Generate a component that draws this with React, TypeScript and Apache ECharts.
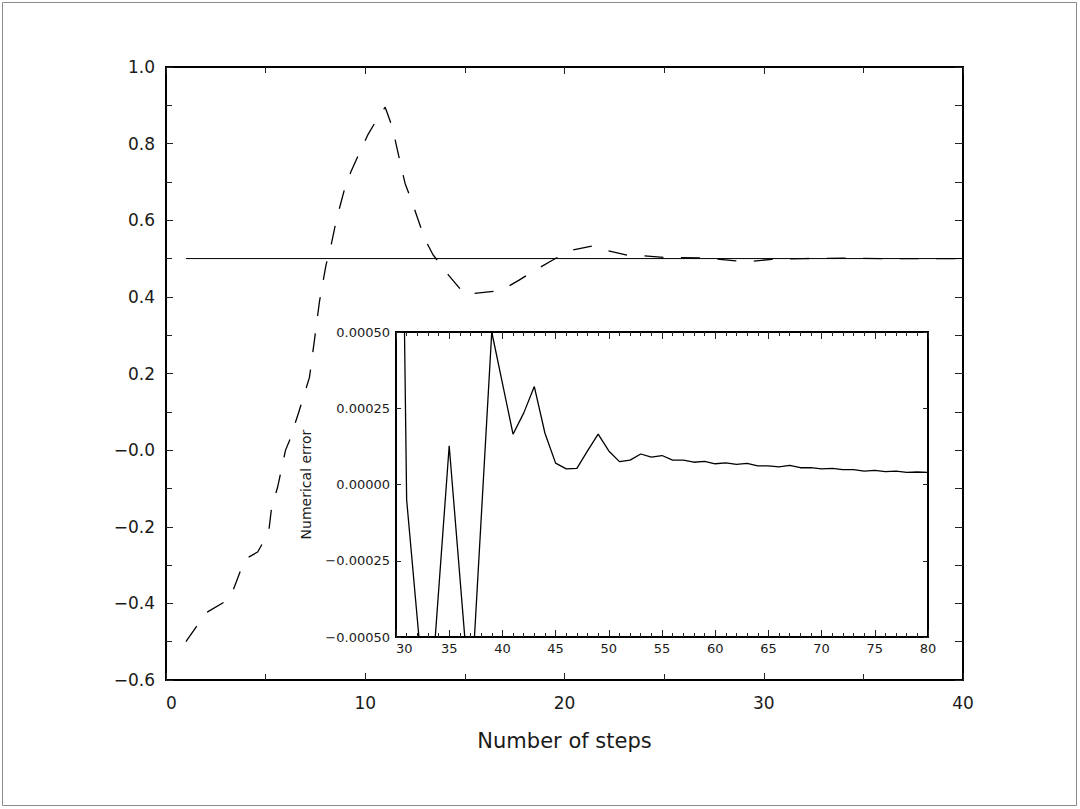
import React, { useEffect, useRef } from "react";
import * as echarts from "echarts";

// Main curve (dashed): step number and value
const mainSteps = [1.0, 1.67, 2.0, 3.2, 3.55, 3.95, 4.6, 5.15, 5.3, 5.6, 6.0, 6.2, 6.65, 7.2, 7.45, 7.7, 8.03, 8.27, 8.55, 8.95, 9.27, 9.7, 10.12, 10.69, 11.0, 11.36, 11.78, 12.0, 12.33, 12.99, 13.4, 14.22, 15.0, 15.95, 16.8, 17.7, 18.6, 19.5, 20.4, 21.4, 22.2, 23.2, 24.0, 25.0, 26.8, 27.6, 28.6, 29.4, 30.4, 32, 34, 36, 38, 40];
const mainValues = [-0.5, -0.45, -0.425, -0.388, -0.341, -0.285, -0.266, -0.215, -0.15, -0.097, 0.0, 0.025, 0.097, 0.19, 0.287, 0.387, 0.483, 0.531, 0.601, 0.679, 0.725, 0.775, 0.822, 0.872, 0.895, 0.843, 0.744, 0.696, 0.65, 0.551, 0.51, 0.454, 0.406, 0.412, 0.416, 0.443, 0.472, 0.499, 0.522, 0.533, 0.52, 0.508, 0.507, 0.503, 0.502, 0.499, 0.494, 0.493, 0.498, 0.5, 0.501, 0.5, 0.5, 0.5];

// Reference (exact) solution line
const refSteps = [1, 40];
const refValues = [0.5, 0.5];

// Inset: numerical error
const insetSteps = [29, 31, 33, 35, 37, 39, 40, 41, 42, 43, 44, 45, 46, 47, 48, 49, 50, 51, 52, 53, 54, 55, 56, 57, 58, 59, 60, 61, 62, 63, 64, 65, 66, 67, 68, 69, 70, 71, 72, 73, 74, 75, 76, 77, 78, 79, 80];
const insetErrors = [0.0054, -0.00005, -0.00083, 0.000127, -0.00073, 0.0005, 0.000332, 0.000165, 0.000234, 0.000321, 0.000168, 0.00007, 0.000051, 0.000053, 0.00011, 0.000165, 0.00011, 0.000075, 0.00008, 0.0001, 0.00009, 0.000095, 0.00008, 0.00008, 0.000073, 0.000076, 0.000068, 0.000071, 0.000066, 0.000069, 0.000061, 0.000061, 0.000058, 0.000063, 0.000055, 0.000055, 0.000051, 0.000053, 0.000049, 0.000049, 0.000044, 0.000046, 0.000042, 0.000044, 0.00004, 0.000041, 0.00004];

const FONT = "DejaVu Sans";
const TEXT = "#1a1a1a";
const TICK = "#222";

export default function App() {
  const ref = useRef<HTMLDivElement>(null);
  useEffect(() => {
    if (!ref.current) return;
    const chart = echarts.init(ref.current, null, { renderer: "svg" });
    const tickBase = (len: number) => ({ show: true, inside: true, length: len, lineStyle: { color: TICK, width: 1 } });
    const minor = (n: number, len: number) => ({ show: true, splitNumber: n, length: len, lineStyle: { color: TICK, width: 1 } });
    const noLine = { show: false, onZero: false };
    const mainY = (v: number) => {
      const r = Math.round(v * 10) / 10;
      return (r <= 0 ? "\u2212" : "") + Math.abs(r).toFixed(1);
    };
    const insetY = (v: number) => {
      const r = Math.round(v * 1e5) / 1e5;
      return (r < 0 ? "\u2212" : "") + Math.abs(r).toFixed(5);
    };
    chart.setOption({
      animation: false,
      backgroundColor: "#fff",
      graphic: [
        { type: "rect", shape: { x: 2.5, y: 2.5, width: 1074, height: 803 }, style: { fill: "none", stroke: "#8c8c8c", lineWidth: 1 }, silent: true },
      ],
      grid: [
        { left: 166, top: 67, width: 797, height: 613, show: true, borderColor: "#000", borderWidth: 2, backgroundColor: "transparent" },
        { left: 396, top: 332, width: 532, height: 305, show: true, borderColor: "#000", borderWidth: 2, backgroundColor: "#fff" },
      ],
      xAxis: [
        {
          gridIndex: 0, type: "value", min: 0, max: 40, interval: 10, position: "bottom",
          axisLine: noLine, splitLine: { show: false },
          axisTick: tickBase(7), minorTick: minor(2, 6),
          axisLabel: { fontFamily: FONT, fontSize: 17, color: TEXT, margin: 14, alignMinLabel: "left" },
          name: "Number of steps", nameLocation: "middle", nameGap: 50,
          nameTextStyle: { fontFamily: FONT, fontSize: 21, color: TEXT },
        },
        {
          gridIndex: 0, type: "value", min: 0, max: 40, interval: 10, position: "top",
          axisLine: noLine, splitLine: { show: false }, axisLabel: { show: false },
          axisTick: tickBase(7), minorTick: minor(2, 6),
        },
        {
          gridIndex: 1, type: "value", min: 30, max: 80, interval: 5, position: "bottom",
          axisLine: noLine, splitLine: { show: false },
          axisTick: tickBase(7), minorTick: minor(5, 4),
          axisLabel: { fontFamily: FONT, fontSize: 13, color: TEXT, margin: 5, alignMinLabel: "left" },
        },
        {
          gridIndex: 1, type: "value", min: 30, max: 80, interval: 5, position: "top",
          axisLine: noLine, splitLine: { show: false }, axisLabel: { show: false },
          axisTick: tickBase(7), minorTick: minor(5, 4),
        },
      ],
      yAxis: [
        {
          gridIndex: 0, type: "value", min: -0.6, max: 1.0, interval: 0.2, position: "left",
          axisLine: noLine, splitLine: { show: false },
          axisTick: tickBase(7), minorTick: minor(2, 6),
          axisLabel: { fontFamily: FONT, fontSize: 17, color: TEXT, margin: 11, formatter: mainY },
        },
        {
          gridIndex: 0, type: "value", min: -0.6, max: 1.0, interval: 0.2, position: "right",
          axisLine: noLine, splitLine: { show: false }, axisLabel: { show: false },
          axisTick: tickBase(8), minorTick: minor(2, 8),
        },
        {
          gridIndex: 1, type: "value", min: -0.0005, max: 0.0005, interval: 0.00025, position: "left",
          axisLine: noLine, splitLine: { show: false },
          axisTick: tickBase(5),
          axisLabel: { fontFamily: FONT, fontSize: 13, color: TEXT, margin: 6, formatter: insetY },
          name: "Numerical error", nameLocation: "middle", nameGap: 83, nameRotate: 90,
          nameTextStyle: { fontFamily: FONT, fontSize: 14, color: TEXT },
        },
        {
          gridIndex: 1, type: "value", min: -0.0005, max: 0.0005, interval: 0.00025, position: "right",
          axisLine: noLine, splitLine: { show: false }, axisLabel: { show: false },
          axisTick: tickBase(5),
        },
      ],
      series: [
        { type: "line", xAxisIndex: 0, yAxisIndex: 0, symbol: "none", data: mainSteps.map((s, i) => [s, mainValues[i]]), lineStyle: { color: "#000", width: 1.3, type: [19, 17.5] }, silent: true },
        { type: "line", xAxisIndex: 0, yAxisIndex: 0, symbol: "none", data: refSteps.map((s, i) => [s, refValues[i]]), lineStyle: { color: "#000", width: 1 }, silent: true },
        { type: "line", xAxisIndex: 2, yAxisIndex: 2, symbol: "none", clip: true, data: insetSteps.map((s, i) => [s, insetErrors[i]]), lineStyle: { color: "#000", width: 1.3 }, silent: true },
      ],
    });
    return () => chart.dispose();
  }, []);
  return <div ref={ref} style={{ position: "absolute", left: 0, top: 0, width: 1080, height: 809 }} />;
}
